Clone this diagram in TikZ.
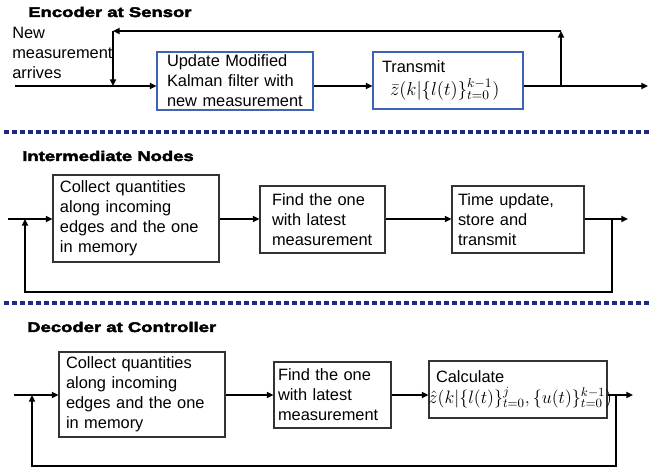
\RequirePackage{fix-cm}
\documentclass[tikz,border=0pt]{standalone}
\usepackage[no-math]{fontspec}
\setmainfont{Liberation Sans}
\newfontfamily\titlefont[FakeStretch=1.32,BoldFeatures={FakeBold=3}]{Liberation Sans}
\usetikzlibrary{arrows.meta}
\definecolor{encblue}{RGB}{60,100,180}
\definecolor{sepblue}{RGB}{30,40,140}
\begin{document}
\begin{tikzpicture}[x=0.75pt,y=-0.75pt,
  every node/.style={font=\fontsize{12.3}{15}\selectfont},
  box/.style={draw=black!80, line width=0.8pt, rectangle, align=left, inner ysep=0pt},
  encbox/.style={box, draw=encblue},
  flow/.style={line width=1.5pt, -{Triangle[length=5pt,width=4.5pt]}},
  sep/.style={sepblue, line width=3pt, dash pattern=on 3.6pt off 2.4pt},
  title/.style={font=\titlefont\bfseries\fontsize{10.5}{12}\selectfont, anchor=base west, inner sep=0pt}]
\useasboundingbox (0,0) rectangle (651,470);

% ---------- titles ----------
\node[title] (tenc) at (28,17) {Encoder at Sensor};
\node[title] (tint) at (22,161) {Intermediate Nodes};
\node[title] (tdec) at (27,332) {Decoder at Controller};

% ---------- separators ----------
\draw[sep] (4,132) -- (651,132);
\draw[sep] (4,303) -- (651,303);

% ---------- encoder ----------
\node[anchor=north west, inner sep=0pt, align=left] (newm) at (12,26.5) {New\\measurement\\arrives};
\node[encbox, minimum width=117pt, minimum height=43.5pt, inner xsep=7.5pt, text width=102pt] (e1) at (235,81)
  {Update Modified\\Kalman filter with\\new measurement};
\node[encbox, minimum width=112.5pt, minimum height=42.75pt, inner xsep=6.75pt, text width=99pt] (e2) at (448,80.5)
  {Transmit\\[2pt]\hspace*{6pt}{\fontsize{14}{15}\selectfont$\bar{z}(k|\{l(t)\}_{t=0}^{k-1})$}};

\coordinate (ein) at (15,86);
\coordinate (eout) at (648,86);
\coordinate (etap) at (561,86);
\coordinate (etopR) at (561,31);
\coordinate (etopL) at (113,31);
\coordinate (ejoin) at (113,86);
\draw[flow] (ein) -- (e1.west |- ein);
\draw[flow] (e1.east |- ein) -- (e2.west |- ein);
\draw[flow] (e2.east |- ein) -- (eout);
\draw[flow] (etap) -- (etopR);
\draw[flow] (etopR) -- (etopL);
\draw[flow] (etopL) -- (ejoin);

% ---------- intermediate ----------
\node[box, minimum width=124.5pt, minimum height=65.25pt, inner xsep=5.25pt, text width=114pt] (i1) at (136,218.5)
  {Collect quantities\\along incoming\\edges and the one\\in memory};
\node[box, minimum width=93.75pt, minimum height=50.25pt, inner xsep=9pt, text width=75.75pt] (i2) at (322.5,219.5)
  {Find the one\\with latest\\measurement};
\node[box, minimum width=99pt, minimum height=50.25pt, inner xsep=4.5pt, text width=90pt] (i3) at (518,219.5)
  {Time update,\\store and\\transmit};

\coordinate (iin) at (8,219);
\coordinate (iout) at (628,219);
\coordinate (itap) at (612,219);
\coordinate (ibR) at (612,292);
\coordinate (ibL) at (25,292);
\coordinate (ijoin) at (25,219);
\draw[flow] (iin) -- (i1.west |- iin);
\draw[flow] (i1.east |- iin) -- (i2.west |- iin);
\draw[flow] (i2.east |- iin) -- (i3.west |- iin);
\draw[flow] (i3.east |- iin) -- (iout);
\draw[flow] (itap) -- (ibR) -- (ibL) -- (ijoin);

% ---------- decoder ----------
\node[box, minimum width=124.5pt, minimum height=63.75pt, inner xsep=5.25pt, text width=114pt] (d1) at (142,394.5)
  {Collect quantities\\along incoming\\edges and the one\\in memory};
\node[box, minimum width=87.75pt, minimum height=49.5pt, inner xsep=3pt, text width=81.75pt] (d2) at (332.5,395)
  {Find the one\\with latest\\measurement};
\node[box, minimum width=133.5pt, minimum height=42.75pt, inner xsep=5.25pt, text width=123pt] (d3) at (518,389.5)
  {Calculate\\[1pt]\hspace*{-5.5pt}\makebox[0pt][l]{\fontsize{13.5}{15}\selectfont$\hat{z}(k|\{l(t)\}_{t=0}^{j},\{u(t)\}_{t=0}^{k-1})$}};

\coordinate (din) at (14,395);
\coordinate (dout) at (633,395);
\coordinate (dtap) at (616,395);
\coordinate (dbR) at (616,466);
\coordinate (dbL) at (32,466);
\coordinate (djoin) at (32,395);
\draw[flow] (din) -- (d1.west |- din);
\draw[flow] (d1.east |- din) -- (d2.west |- din);
\draw[flow] (d2.east |- din) -- (d3.west |- din);
\draw[flow] (d3.east |- din) -- (dout);
\draw[flow] (dtap) -- (dbR) -- (dbL) -- (djoin);
\end{tikzpicture}
\end{document}
